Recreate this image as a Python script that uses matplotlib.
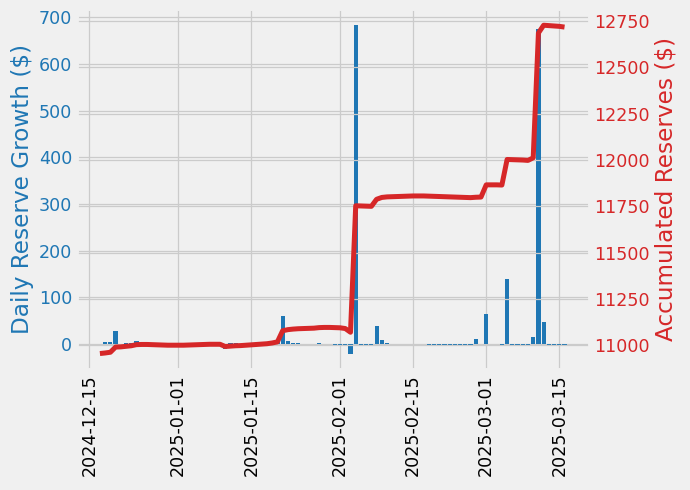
import pandas as pd
import matplotlib
matplotlib.use("Agg")
import matplotlib.pyplot as plt

# Accumulated reserves, one value per day from 2024-12-17 to 2025-03-16
dates = pd.date_range("2024-12-17", "2025-03-16", freq="D")

reserves = [
    10955, 10958, 10962, 10990, 10991, 10994, 10997, 11003, 11004, 11004,
    11003, 11002, 11001, 11000, 11000, 11000, 11000, 11001, 11002, 11003,
    11004, 11005, 11005, 11005, 10993, 10995, 10997, 10998, 11000, 11002,
    11004, 11006, 11008, 11012, 11018, 11078, 11084, 11087, 11089, 11090,
    11091, 11092, 11095, 11096, 11096, 11095, 11094, 11090, 11070, 11753,
    11752, 11751, 11750, 11788, 11798, 11801, 11802, 11803, 11804, 11805,
    11806, 11806, 11806, 11805, 11804, 11803, 11802, 11801, 11800, 11799,
    11798, 11797, 11799, 11800, 11866, 11866, 11866, 11865, 12003, 12002,
    12001, 12000, 11998, 12012, 12686, 12728, 12726, 12724, 12722, 12718,
]

# Daily growth, one value per day from 2024-12-18 to 2025-03-16
daily_growth = [
    4, 4, 28, 1, 3, 3, 6, 1, 0, -1,
    -1, -1, -1, 0, 0, 0, 1, 1, 1, 1,
    1, 0, 0, -10, 2, 2, 1, 2, 2, 2,
    2, 2, 4, 6, 60, 6, 3, 2, 1, 1,
    1, 3, 1, 0, -1, -1, -4, -20, 683, -1,
    -1, -1, 38, 10, 3, 1, 1, 1, 1, 1,
    1, 0, -1, -1, -1, -1, -1, -1, -1, -1,
    -1, 12, 1, 65, 1, 1, -1, 140, -1, -1,
    -1, -2, 15, 675, 48, -2, -2, -2, -4,
]

plt.style.use("fivethirtyeight")

DPI = 90
fig, ax1 = plt.subplots(figsize=(690 / DPI, 490 / DPI), dpi=DPI)
fig.subplots_adjust(left=0.111, right=0.855, top=0.982, bottom=0.245)

# Bars: daily growth
ax1.bar(dates[1:], daily_growth, color="tab:blue")
ax1.set_ylabel("Daily Reserve Growth ($)", color="tab:blue", fontsize=18.5)
ax1.tick_params(axis="y", labelcolor="tab:blue")
ax1.tick_params(axis="x", rotation=90)

# Line: accumulated reserves on a second axis
ax2 = ax1.twinx()
ax2.plot(dates, reserves, color="tab:red")
ax2.set_ylabel("Accumulated Reserves ($)", color="tab:red", fontsize=18.5)
ax2.tick_params(axis="y", labelcolor="tab:red")

fig.savefig("out.png", dpi=DPI)
